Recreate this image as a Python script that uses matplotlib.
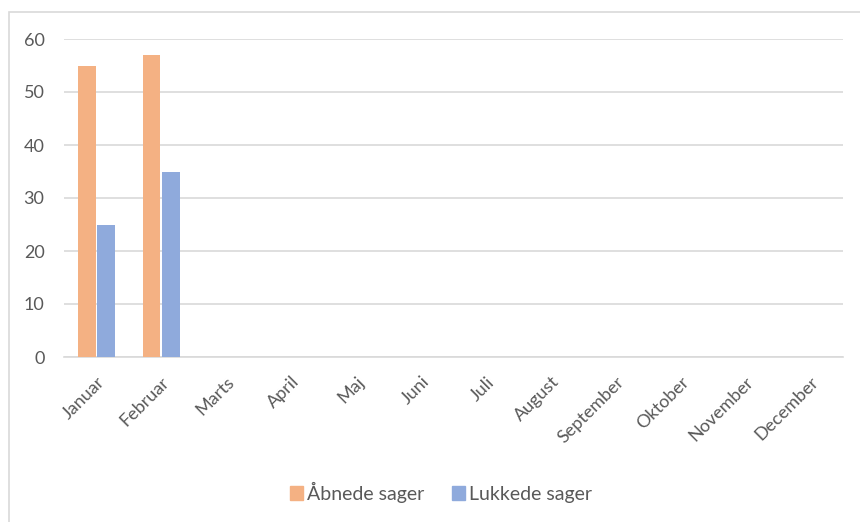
import numpy as np
import matplotlib.pyplot as plt
from matplotlib.patches import Rectangle, Patch

# Data
months = ["Januar", "Februar", "Marts", "April", "Maj", "Juni",
          "Juli", "August", "September", "Oktober", "November", "December"]
aabnede = [55, 57, 0, 0, 0, 0, 0, 0, 0, 0, 0, 0]
lukkede = [25, 35, 0, 0, 0, 0, 0, 0, 0, 0, 0, 0]
y_ticks = [0, 10, 20, 30, 40, 50, 60]

orange = "#F4B183"
blue = "#8FAADC"
grey_text = "#595959"
grid_col = "#D9D9D9"

plt.rcParams["font.family"] = ["Lato", "DejaVu Sans"]

fig = plt.figure(figsize=(8.6, 5.22), dpi=100)
ax = fig.add_axes([64 / 860, 1 - 357 / 522, (843 - 64) / 860, (357 - 39) / 522])

# outer chart border
fig.patches.append(Rectangle((9 / 860, -0.05), 1.0, 1 - 12 / 522 + 0.05,
                             transform=fig.transFigure, fill=False,
                             edgecolor=grid_col, lw=1.2))

x = np.arange(len(months))
w = 0.265
ax.bar(x - 0.147, aabnede, width=w, color=orange, label="Åbnede sager", zorder=3)
ax.bar(x + 0.147, lukkede, width=w, color=blue, label="Lukkede sager", zorder=3)

ax.set_xlim(-0.5, len(months) - 0.5)
ax.set_ylim(0, 60)
ax.set_yticks(y_ticks)
ax.yaxis.grid(True, color=grid_col, lw=1.2, zorder=0)
ax.set_axisbelow(True)

for s in ["top", "right", "left"]:
    ax.spines[s].set_visible(False)
ax.spines["bottom"].set_color(grid_col)
ax.spines["bottom"].set_linewidth(1.2)

ax.set_xticks(x)
ax.set_xticklabels(months, rotation=45, ha="right", rotation_mode="anchor",
                   fontsize=13, color=grey_text)
ax.tick_params(axis="x", length=0, pad=12)
ax.tick_params(axis="y", length=0, pad=14, labelsize=13, labelcolor=grey_text)

handles = [Patch(color=orange, label="Åbnede sager"),
           Patch(color=blue, label="Lukkede sager")]
fig.legend(handles=handles, loc="center", bbox_to_anchor=(441 / 860, 1 - 492 / 522),
           ncol=2, frameon=False, fontsize=14, labelcolor=grey_text,
           handlelength=0.7, handleheight=0.7, handletextpad=0.2, columnspacing=1.4)

fig.savefig("out.png", dpi=100)
